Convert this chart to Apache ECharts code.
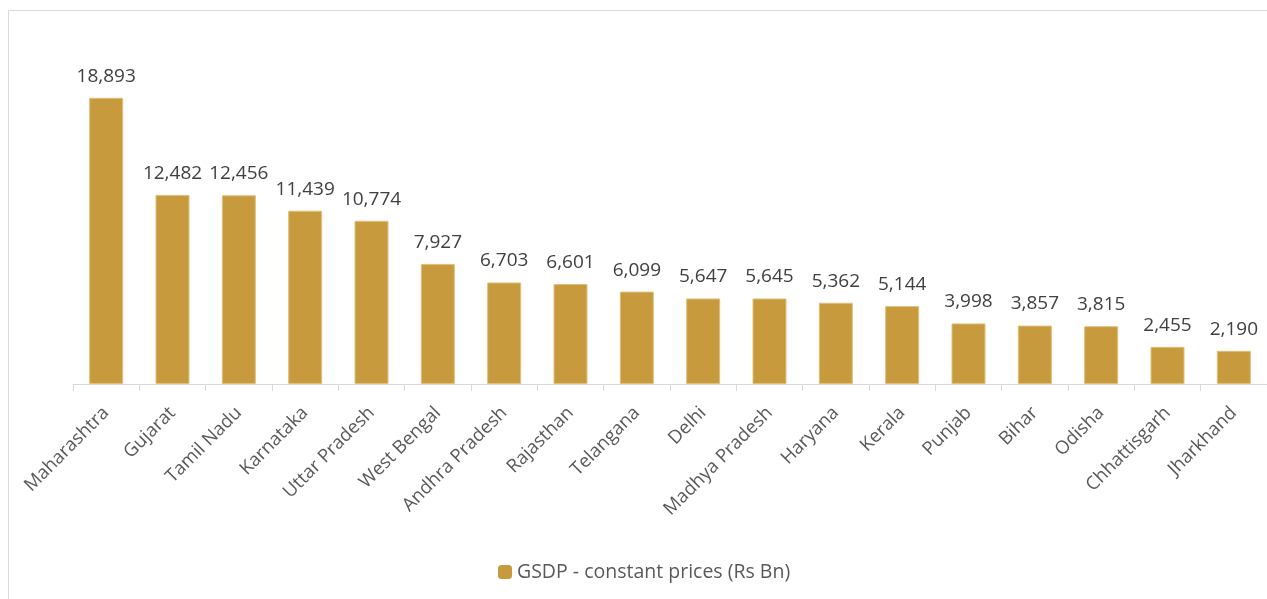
<!DOCTYPE html>
<html>
<head>
<meta charset="utf-8">
<script src="https://cdn.jsdelivr.net/npm/echarts@6/dist/echarts.min.js"></script>
<style>
    html, body { margin: 0; padding: 0; background: #fff; }
    #chart { width: 1267px; height: 599px; }
</style>
</head>
<body>
<div id="chart"></div>
<script>
var states = ['Maharashtra', 'Gujarat', 'Tamil Nadu', 'Karnataka', 'Uttar Pradesh', 'West Bengal',
    'Andhra Pradesh', 'Rajasthan', 'Telangana', 'Delhi', 'Madhya Pradesh', 'Haryana', 'Kerala',
    'Punjab', 'Bihar', 'Odisha', 'Chhattisgarh', 'Jharkhand']
var gsdp = [18893, 12482, 12456, 11439, 10774, 7927, 6703, 6601, 6099, 5647, 5645, 5362, 5144,
    3998, 3857, 3815, 2455, 2190]
var seriesName = 'GSDP - constant prices (Rs Bn)'

var chart = echarts.init(document.getElementById('chart'))
var font = '"Open Sans", "Liberation Sans", sans-serif'

chart.setOption({
    animation: false,
    graphic: [{
        type: 'rect',
        shape: { x: 8.5, y: 10.5, width: 1400, height: 800 },
        style: { fill: 'none', stroke: '#d9d9d9', lineWidth: 1 },
        silent: true
    }],
    legend: {
        data: [seriesName],
        top: 557,
        left: 493,
        itemWidth: 14,
        itemHeight: 14,
        itemGap: 5,
        itemStyle: { borderWidth: 0 },
        textStyle: { fontFamily: font, fontSize: 19.5, color: '#595959' }
    },
    grid: {
        left: 73,
        top: 81,
        width: 1200,
        bottom: 215
    },
    xAxis: {
        type: 'category',
        data: states,
        axisLine: { lineStyle: { color: '#d9d9d9', width: 1 } },
        axisTick: { show: true, length: 7, lineStyle: { color: '#d9d9d9' } },
        axisLabel: {
            rotate: 45,
            margin: 26,
            interval: 0,
            fontFamily: font,
            fontSize: 18.5,
            color: '#595959'
        }
    },
    yAxis: {
        type: 'value',
        min: 0,
        max: 20000,
        show: false
    },
    series: [{
        name: seriesName,
        type: 'bar',
        data: gsdp,
        barWidth: 34,
        itemStyle: { color: '#C79B3D', borderColor: '#E0C07C', borderWidth: 1 },
        label: {
            show: true,
            position: 'top',
            distance: 12,
            fontFamily: font,
            fontSize: 19,
            color: '#404040',
            formatter: function (p) { return p.value.toLocaleString('en-US') }
        }
    }]
})
</script>
</body>
</html>
